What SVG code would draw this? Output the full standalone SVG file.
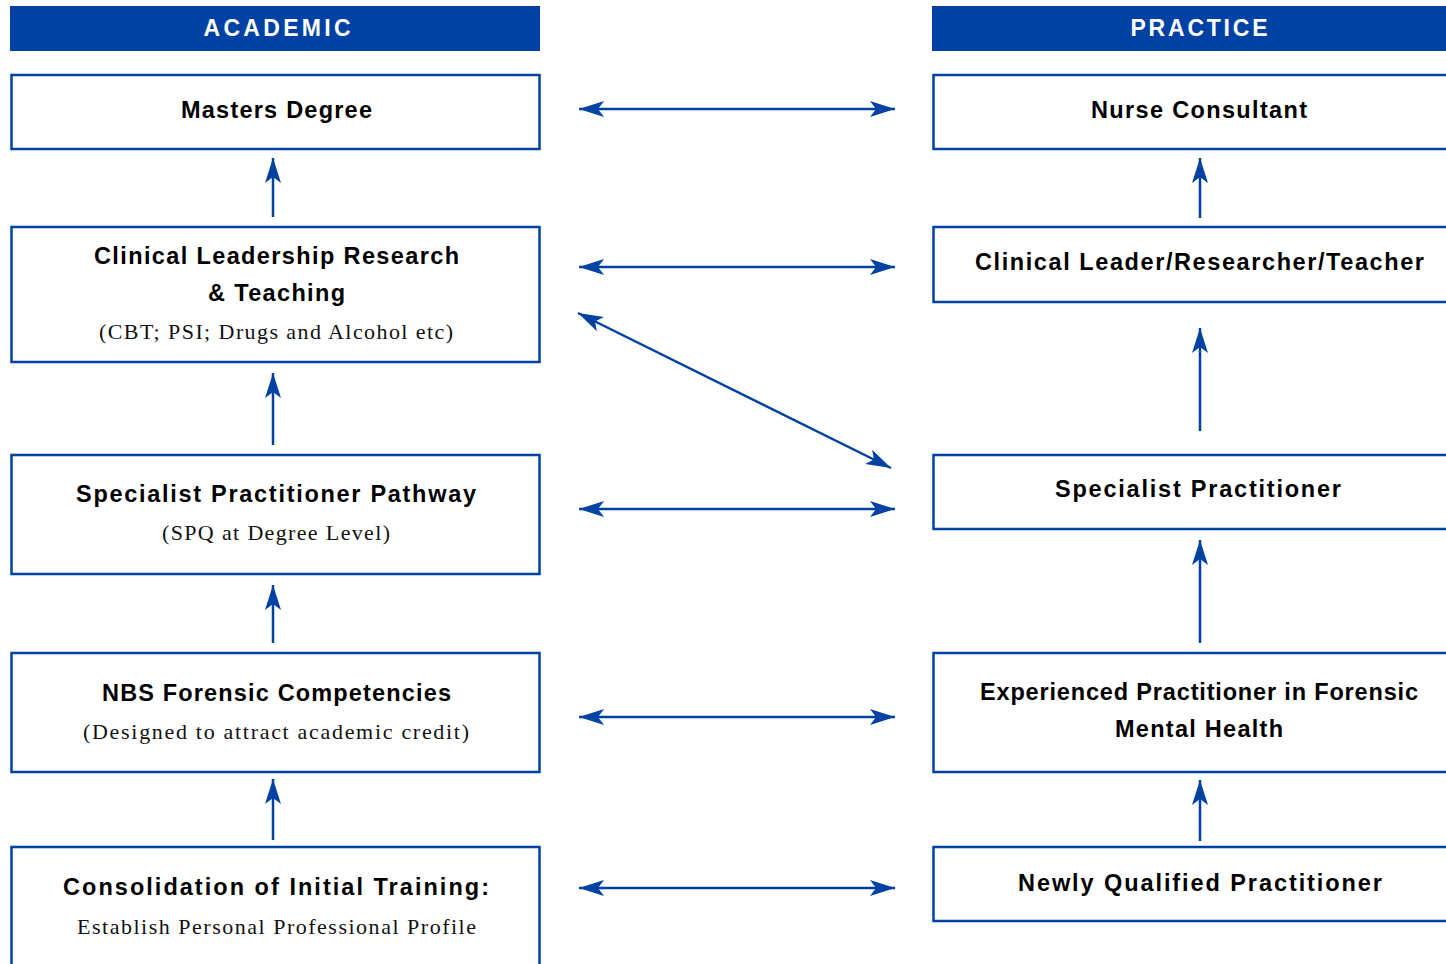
<svg xmlns="http://www.w3.org/2000/svg" width="1446" height="964" viewBox="0 0 1446 964">
<style>
.bg{fill:#ffffff}
.bar{fill:#0041a4}
.box{fill:#ffffff;stroke:#0041a4;stroke-width:2.5}
.hd{font-family:"Liberation Sans",Arial,sans-serif;font-weight:bold;font-size:23px;fill:#ffffff;text-anchor:middle}
.t{font-family:"Liberation Sans",Arial,sans-serif;font-weight:bold;font-size:23.5px;fill:#000000;text-anchor:middle}
.s{font-family:"Liberation Serif","Times New Roman",serif;font-size:22px;fill:#111111;text-anchor:middle}
.ln{stroke:#0041a4;stroke-width:2.5;fill:none}
</style>
<defs>
<marker id="ah" markerUnits="userSpaceOnUse" markerWidth="30" markerHeight="20" viewBox="-26 -10 28 20" refX="0" refY="0" orient="auto-start-reverse">
<path d="M0,0 L-25,-8 L-19,0 L-25,8 Z" fill="#0041a4"/>
</marker>
</defs>
<rect class="bg" x="0" y="0" width="1446" height="964"/>
<g id="header-academic">
<rect class="bar" x="10" y="6" width="530" height="45"/>
<text class="hd" x="277" y="36" textLength="147" lengthAdjust="spacing">ACADEMIC</text>
</g>
<g id="header-practice">
<rect class="bar" x="932" y="6" width="520" height="45"/>
<text class="hd" x="1199" y="36" textLength="137" lengthAdjust="spacing">PRACTICE</text>
</g>
<g id="masters">
<rect class="box" x="11.5" y="75" width="528" height="74"/>
<text class="t" x="276.5" y="118" textLength="191" lengthAdjust="spacing">Masters Degree</text>
</g>
<g id="clinical-leadership">
<rect class="box" x="11.5" y="227" width="528" height="135"/>
<text class="t" x="276.5" y="264" textLength="365" lengthAdjust="spacing">Clinical Leadership Research</text>
<text class="t" x="276.5" y="301" textLength="137" lengthAdjust="spacing">&amp; Teaching</text>
<text class="s" x="276" y="339" textLength="354" lengthAdjust="spacing">(CBT; PSI; Drugs and Alcohol etc)</text>
</g>
<g id="specialist-pathway">
<rect class="box" x="11.5" y="455" width="528" height="119"/>
<text class="t" x="276" y="502" textLength="400" lengthAdjust="spacing">Specialist Practitioner Pathway</text>
<text class="s" x="276" y="540" textLength="228" lengthAdjust="spacing">(SPQ at Degree Level)</text>
</g>
<g id="nbs">
<rect class="box" x="11.5" y="653" width="528" height="119"/>
<text class="t" x="276.5" y="701" textLength="349" lengthAdjust="spacing">NBS Forensic Competencies</text>
<text class="s" x="276" y="739" textLength="386" lengthAdjust="spacing">(Designed to attract academic credit)</text>
</g>
<g id="consolidation">
<rect class="box" x="11.5" y="847" width="528" height="140"/>
<text class="t" x="276" y="895" textLength="426" lengthAdjust="spacing">Consolidation of Initial Training:</text>
<text class="s" x="276.5" y="934" textLength="399" lengthAdjust="spacing">Establish Personal Professional Profile</text>
</g>
<g id="nurse-consultant">
<rect class="box" x="933.5" y="75" width="530" height="74"/>
<text class="t" x="1199" y="118" textLength="216" lengthAdjust="spacing">Nurse Consultant</text>
</g>
<g id="clinical-leader">
<rect class="box" x="933.5" y="227" width="530" height="75"/>
<text class="t" x="1199.5" y="270" textLength="449" lengthAdjust="spacing">Clinical Leader/Researcher/Teacher</text>
</g>
<g id="specialist-practitioner">
<rect class="box" x="933.5" y="455" width="530" height="74"/>
<text class="t" x="1198" y="497" textLength="286" lengthAdjust="spacing">Specialist Practitioner</text>
</g>
<g id="experienced">
<rect class="box" x="933.5" y="653" width="530" height="119"/>
<text class="t" x="1199" y="700" textLength="438" lengthAdjust="spacing">Experienced Practitioner in Forensic</text>
<text class="t" x="1199" y="737" textLength="168" lengthAdjust="spacing">Mental Health</text>
</g>
<g id="newly-qualified">
<rect class="box" x="933.5" y="847" width="530" height="74"/>
<text class="t" x="1200" y="891" textLength="364" lengthAdjust="spacing">Newly Qualified Practitioner</text>
</g>
<g id="connectors">
<line class="ln" x1="273" y1="217" x2="273" y2="158" marker-end="url(#ah)"/>
<line class="ln" x1="273" y1="445" x2="273" y2="373" marker-end="url(#ah)"/>
<line class="ln" x1="273" y1="643" x2="273" y2="585" marker-end="url(#ah)"/>
<line class="ln" x1="273" y1="840" x2="273" y2="779" marker-end="url(#ah)"/>
<line class="ln" x1="1200" y1="218" x2="1200" y2="158" marker-end="url(#ah)"/>
<line class="ln" x1="1200" y1="431" x2="1200" y2="328" marker-end="url(#ah)"/>
<line class="ln" x1="1200" y1="643" x2="1200" y2="540" marker-end="url(#ah)"/>
<line class="ln" x1="1200" y1="841" x2="1200" y2="780" marker-end="url(#ah)"/>
<line class="ln" x1="579" y1="109" x2="895" y2="109" marker-start="url(#ah)" marker-end="url(#ah)"/>
<line class="ln" x1="579" y1="267" x2="895" y2="267" marker-start="url(#ah)" marker-end="url(#ah)"/>
<line class="ln" x1="579" y1="509" x2="895" y2="509" marker-start="url(#ah)" marker-end="url(#ah)"/>
<line class="ln" x1="579" y1="717" x2="895" y2="717" marker-start="url(#ah)" marker-end="url(#ah)"/>
<line class="ln" x1="579" y1="888" x2="895" y2="888" marker-start="url(#ah)" marker-end="url(#ah)"/>
<line class="ln" x1="578" y1="313" x2="891" y2="468" marker-start="url(#ah)" marker-end="url(#ah)"/>
</g>
</svg>
